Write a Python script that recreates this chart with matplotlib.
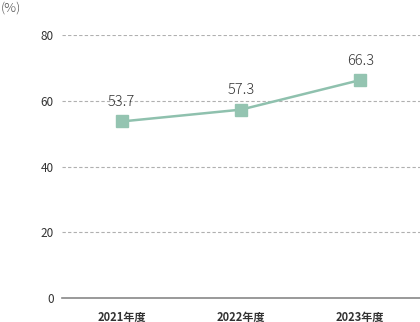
import matplotlib
matplotlib.use("Agg")
import matplotlib.pyplot as plt

plt.rcParams['font.family'] = ['Noto Sans CJK JP', 'DejaVu Sans']

categories = ["2021年度", "2022年度", "2023年度"]
values = [53.7, 57.3, 66.3]
yticks = [0, 20, 40, 60, 80]

fig = plt.figure(figsize=(4.2, 3.22), dpi=100)
ax = fig.add_axes([62/420, 1-298/322, 1-62/420, (298-35)/322])
x = list(range(len(categories)))
ax.plot(x, values, color='#8fc1ae', lw=1.8, marker='s', ms=8, mfc='#94c4b1', mec='#94c4b1', zorder=3)
for xi, v in zip(x, values):
    ax.annotate(f"{v:.1f}", (xi, v), xytext=(0, 9), textcoords='offset points',
                ha='center', va='bottom', fontsize=10.5, color='#333333', fontweight='light')
ax.set_xlim(-0.5, 2.5)
ax.set_ylim(0, 80)
ax.set_yticks(yticks)
ax.set_yticklabels([str(t) for t in yticks], fontsize=8.5, color='#333333')
ax.set_xticks(x)
ax.set_xticklabels(categories, fontsize=8, color='#333333', fontweight='bold')
for t in yticks[1:]:
    ax.axhline(t, color='#b0b0b0', lw=0.8, ls=(0, (3, 2)), zorder=1)
for s in ['top', 'right', 'left']:
    ax.spines[s].set_visible(False)
ax.spines['bottom'].set_color('#888888')
ax.spines['bottom'].set_linewidth(1.2)
ax.tick_params(axis='both', length=0)
ax.tick_params(axis='y', pad=6)
ax.tick_params(axis='x', pad=9)
fig.text(1/420, 1-8/322, "(%)", fontsize=9.5, color='#555555', ha='left', va='center', fontweight='light')
fig.savefig("out.png", dpi=100)
